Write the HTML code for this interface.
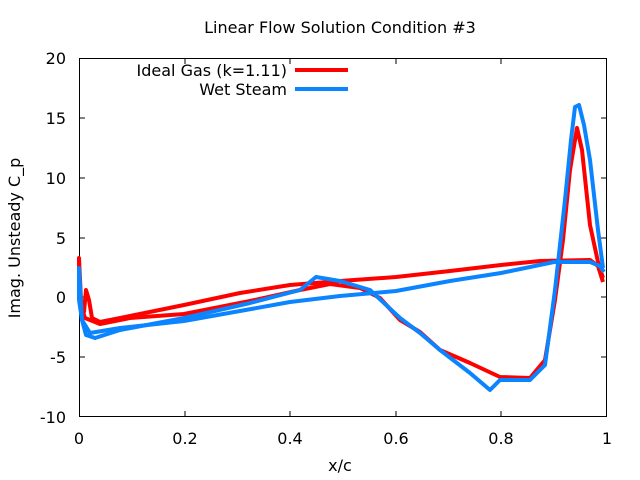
<!DOCTYPE html>
<html><head><style>body{margin:0;background:#fff}svg{display:block}text{font-family:"DejaVu Sans","Liberation Sans",sans-serif;font-size:16px;fill:#000}</style></head><body>
<svg width="640" height="480" viewBox="0 0 640 480">
<rect x="0" y="0" width="640" height="480" fill="#fff"/>
<text x="340" y="33" text-anchor="middle">Linear Flow Solution Condition #3</text>
<g text-anchor="end">
<text x="66" y="64">20</text><text x="66" y="124">15</text><text x="66" y="184">10</text><text x="66" y="244">5</text><text x="66" y="303">0</text><text x="66" y="363">-5</text><text x="66" y="423">-10</text></g>
<g text-anchor="middle">
<text x="79" y="444">0</text><text x="185" y="444">0.2</text><text x="290" y="444">0.4</text><text x="396" y="444">0.6</text><text x="501" y="444">0.8</text><text x="607" y="444">1</text>
<text x="340" y="471">x/c</text></g>
<text transform="translate(20,238) rotate(-90)" text-anchor="middle">Imag. Unsteady C_p</text>
<g stroke="#000" stroke-width="1" fill="none">
<rect x="79.5" y="58.5" width="527" height="358"/>
<path d="M79 118h6M79 178h6M79 238h6M79 297h6M79 357h6M607 118h-6M607 178h-6M607 238h-6M607 297h-6M607 357h-6M185 417v-6M290 417v-6M396 417v-6M501 417v-6M185 58v6M290 58v6M396 58v6M501 58v6"/>
</g>
<g fill="none" stroke-width="4" stroke-linejoin="round">
<path stroke="#f00" d="M79 300L79 258L81 300L84 312L86 290L89 300L92 318L100 322L130 316L184 305L240 293L290 285L340 281L396 277L450 271L501 265L540 261L590 260L598 266L603 282"/>
<path stroke="#f00" d="M79 300L85 318L100 324L130 318L184 314L250 301L300 290L330 284L360 288L380 298L400 320L420 332L440 350L470 363L500 377L530 378L545 360L555 300L563 240L570 170L577 128L582 150L590 225L598 262L603 278"/>
<path stroke="#0a84ff" d="M79 300L82 320L90 333L120 328L184 321L240 311L290 302L340 296L396 291L450 281L501 273L554 262L590 262L600 266L604 272"/>
<path stroke="#0a84ff" d="M79 300L79 268L82 320L86 335L95 338L120 330L184 318L250 303L300 290L316 277L340 281L370 290L400 318L420 333L440 350L470 373L490 390L500 380L530 380L545 365L555 290L565 200L571 140L575 107L579 105L584 125L590 160L598 230L603 268"/>
<path stroke="#f00" d="M295 70H348"/>
<path stroke="#0a84ff" d="M295 89H348"/>
</g>
<g text-anchor="end"><text x="287" y="76">Ideal Gas (k=1.11)</text><text x="287" y="95">Wet Steam</text></g>
</svg>
</body></html>
